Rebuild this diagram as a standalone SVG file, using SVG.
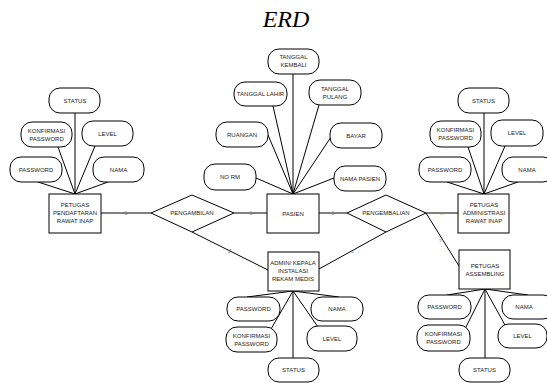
<svg xmlns="http://www.w3.org/2000/svg" width="547" height="383" viewBox="0 0 547 383">
<style>
.e{fill:#fff;stroke:#000;stroke-width:1}
.a{fill:#fff;stroke:#000;stroke-width:1}
.t{font-family:"Liberation Sans",Arial,sans-serif;font-size:6px;fill:#222;text-anchor:middle;dominant-baseline:central}
.c line{stroke:#000;stroke-width:1}
.k{font-family:"Liberation Sans",Arial,sans-serif;font-size:6px;fill:#888;text-anchor:middle;dominant-baseline:central}
</style>
<rect width="547" height="383" fill="#fff"/>
<text x="286" y="27" font-family="'Liberation Serif','Times New Roman',serif" font-style="italic" font-size="24" text-anchor="middle" fill="#000">ERD</text>

<g id="connectors" class="c">
<line x1="100" y1="213" x2="151" y2="213"/>
<line x1="234" y1="213" x2="267" y2="213"/>
<line x1="319" y1="213" x2="347" y2="213"/>
<line x1="426" y1="213" x2="458" y2="213"/>
<line x1="192" y1="232" x2="268" y2="270"/>
<line x1="386" y1="232" x2="319" y2="269"/>
<line x1="426" y1="213" x2="459" y2="266"/>
<!-- pendaftaran attrs -->
<line x1="75" y1="113" x2="75" y2="194"/>
<line x1="58" y1="147" x2="75" y2="194"/>
<line x1="95" y1="146" x2="75" y2="194"/>
<line x1="38" y1="182" x2="75" y2="194"/>
<line x1="108" y1="182" x2="75" y2="194"/>
<!-- pasien attrs -->
<line x1="293" y1="74" x2="293" y2="194"/>
<line x1="273" y1="106" x2="293" y2="194"/>
<line x1="319" y1="105" x2="293" y2="194"/>
<line x1="268" y1="135" x2="293" y2="194"/>
<line x1="331" y1="137" x2="293" y2="194"/>
<line x1="256" y1="178" x2="293" y2="194"/>
<line x1="334" y1="178" x2="293" y2="194"/>
<!-- admin rawat inap attrs -->
<line x1="484" y1="113" x2="484" y2="194"/>
<line x1="468" y1="147" x2="484" y2="194"/>
<line x1="505" y1="146" x2="484" y2="194"/>
<line x1="447" y1="182" x2="484" y2="194"/>
<line x1="518" y1="182" x2="484" y2="194"/>
<!-- admin kepala attrs -->
<line x1="293" y1="291" x2="247" y2="297"/>
<line x1="293" y1="291" x2="339" y2="297"/>
<line x1="293" y1="291" x2="271" y2="329"/>
<line x1="293" y1="291" x2="318" y2="327"/>
<line x1="293" y1="291" x2="293" y2="358"/>
<!-- assembling attrs -->
<line x1="485" y1="289" x2="447" y2="295"/>
<line x1="485" y1="289" x2="528" y2="295"/>
<line x1="485" y1="289" x2="466" y2="327"/>
<line x1="485" y1="289" x2="505" y2="325"/>
<line x1="485" y1="289" x2="485" y2="358"/>
<text class="k" x="126" y="213">1</text>
<text class="k" x="251" y="213">1</text>
<text class="k" x="333" y="213">1</text>
<text class="k" x="442" y="213">n</text>
<text class="k" x="230" y="251" transform="rotate(27 230 251)">1</text>
<text class="k" x="353" y="251" transform="rotate(20 353 251)">1</text>
<text class="k" x="441" y="240" transform="rotate(-30 441 240)">n</text>
</g>

<g id="rel-pengambilan">
<polygon class="e" points="151,213 192,195 234,213 192,232"/>
<text class="t" x="192" y="213">PENGAMBILAN</text>
</g>
<g id="rel-pengembalian">
<polygon class="e" points="347,213 386,195 426,213 386,232"/>
<text class="t" x="386" y="213">PENGEMBALIAN</text>
</g>

<g id="ent-pendaftaran">
<rect class="e" x="49" y="194" width="52" height="39"/>
<text class="t" x="75" y="205">PETUGAS</text>
<text class="t" x="75" y="213">PENDAFTARAN</text>
<text class="t" x="75" y="221">RAWAT INAP</text>
</g>
<g id="ent-pasien">
<rect class="e" x="267" y="194" width="52" height="39"/>
<text class="t" x="293" y="214">PASIEN</text>
</g>
<g id="ent-administrasi">
<rect class="e" x="458" y="194" width="51" height="39"/>
<text class="t" x="484" y="205">PETUGAS</text>
<text class="t" x="484" y="213">ADMINISTRASI</text>
<text class="t" x="484" y="221">RAWAT INAP</text>
</g>
<g id="ent-admin-kepala">
<rect class="e" x="268" y="252" width="51" height="39"/>
<text class="t" x="293" y="263">ADMIN/ KEPALA</text>
<text class="t" x="293" y="271">INSTALASI</text>
<text class="t" x="293" y="279">REKAM MEDIS</text>
</g>
<g id="ent-assembling">
<rect class="e" x="459" y="250" width="51" height="39"/>
<text class="t" x="485" y="266">PETUGAS</text>
<text class="t" x="485" y="274">ASSEMBLING</text>
</g>

<!-- Pendaftaran attributes -->
<g id="pd-status"><rect class="a" x="49" y="88" width="51" height="25" rx="11"/><text class="t" x="75" y="100.5">STATUS</text></g>
<g id="pd-konf"><rect class="a" x="21" y="122" width="51" height="25" rx="11"/><text class="t" x="46.5" y="130.5">KONFIRMASI</text><text class="t" x="46.5" y="138.5">PASSWORD</text></g>
<g id="pd-level"><rect class="a" x="82" y="121" width="51" height="25" rx="11"/><text class="t" x="107.5" y="133.5">LEVEL</text></g>
<g id="pd-password"><rect class="a" x="10" y="157" width="52" height="25" rx="11"/><text class="t" x="36" y="169.5">PASSWORD</text></g>
<g id="pd-nama"><rect class="a" x="93" y="157" width="51" height="25" rx="11"/><text class="t" x="118.5" y="169.5">NAMA</text></g>

<!-- Pasien attributes -->
<g id="ps-kembali"><rect class="a" x="268" y="49" width="51" height="25" rx="11"/><text class="t" x="293.5" y="57">TANGGAL</text><text class="t" x="293.5" y="65">KEMBALI</text></g>
<g id="ps-lahir"><rect class="a" x="234" y="82" width="53" height="24" rx="11"/><text class="t" x="260.5" y="94">TANGGAL LAHIR</text></g>
<g id="ps-pulang"><rect class="a" x="309" y="80" width="52" height="25" rx="11"/><text class="t" x="335" y="88.5">TANGGAL</text><text class="t" x="335" y="96.5">PULANG</text></g>
<g id="ps-ruangan"><rect class="a" x="216" y="122" width="52" height="25" rx="11"/><text class="t" x="242" y="134.5">RUANGAN</text></g>
<g id="ps-bayar"><rect class="a" x="330" y="123" width="52" height="25" rx="11"/><text class="t" x="356" y="135.5">BAYAR</text></g>
<g id="ps-norm"><rect class="a" x="204" y="164" width="52" height="26" rx="11"/><text class="t" x="230" y="177">NO RM</text></g>
<g id="ps-nama"><rect class="a" x="334" y="166" width="52" height="25" rx="11"/><text class="t" x="360" y="178.5">NAMA PASIEN</text></g>

<!-- Administrasi attributes -->
<g id="ad-status"><rect class="a" x="458" y="88" width="51" height="25" rx="11"/><text class="t" x="483.5" y="100.5">STATUS</text></g>
<g id="ad-konf"><rect class="a" x="430" y="121" width="51" height="26" rx="11"/><text class="t" x="455.5" y="130">KONFIRMASI</text><text class="t" x="455.5" y="138">PASSWORD</text></g>
<g id="ad-level"><rect class="a" x="491" y="120" width="52" height="26" rx="11"/><text class="t" x="517" y="133">LEVEL</text></g>
<g id="ad-password"><rect class="a" x="419" y="157" width="52" height="25" rx="11"/><text class="t" x="445" y="169.5">PASSWORD</text></g>
<g id="ad-nama"><rect class="a" x="502" y="157" width="52" height="25" rx="11"/><text class="t" x="527" y="169.5">NAMA</text></g>

<!-- Admin kepala attributes -->
<g id="ak-password"><rect class="a" x="227" y="297" width="53" height="24" rx="11"/><text class="t" x="253.5" y="309">PASSWORD</text></g>
<g id="ak-nama"><rect class="a" x="311" y="297" width="52" height="24" rx="11"/><text class="t" x="337" y="309">NAMA</text></g>
<g id="ak-konf"><rect class="a" x="226" y="327" width="51" height="25" rx="11"/><text class="t" x="251.5" y="335.5">KONFIRMASI</text><text class="t" x="251.5" y="343.5">PASSWORD</text></g>
<g id="ak-level"><rect class="a" x="307" y="326" width="50" height="25" rx="11"/><text class="t" x="332" y="338.5">LEVEL</text></g>
<g id="ak-status"><rect class="a" x="268" y="358" width="51" height="24" rx="11"/><text class="t" x="293.5" y="370">STATUS</text></g>

<!-- Assembling attributes -->
<g id="as-password"><rect class="a" x="418" y="295" width="53" height="24" rx="11"/><text class="t" x="444.5" y="307">PASSWORD</text></g>
<g id="as-nama"><rect class="a" x="502" y="295" width="52" height="24" rx="11"/><text class="t" x="524" y="307">NAMA</text></g>
<g id="as-konf"><rect class="a" x="417" y="325" width="53" height="26" rx="11"/><text class="t" x="443.5" y="334">KONFIRMASI</text><text class="t" x="443.5" y="342">PASSWORD</text></g>
<g id="as-level"><rect class="a" x="498" y="324" width="49" height="24" rx="11"/><text class="t" x="522.5" y="336">LEVEL</text></g>
<g id="as-status"><rect class="a" x="459" y="358" width="51" height="24" rx="11"/><text class="t" x="484.5" y="370">STATUS</text></g>
</svg>
